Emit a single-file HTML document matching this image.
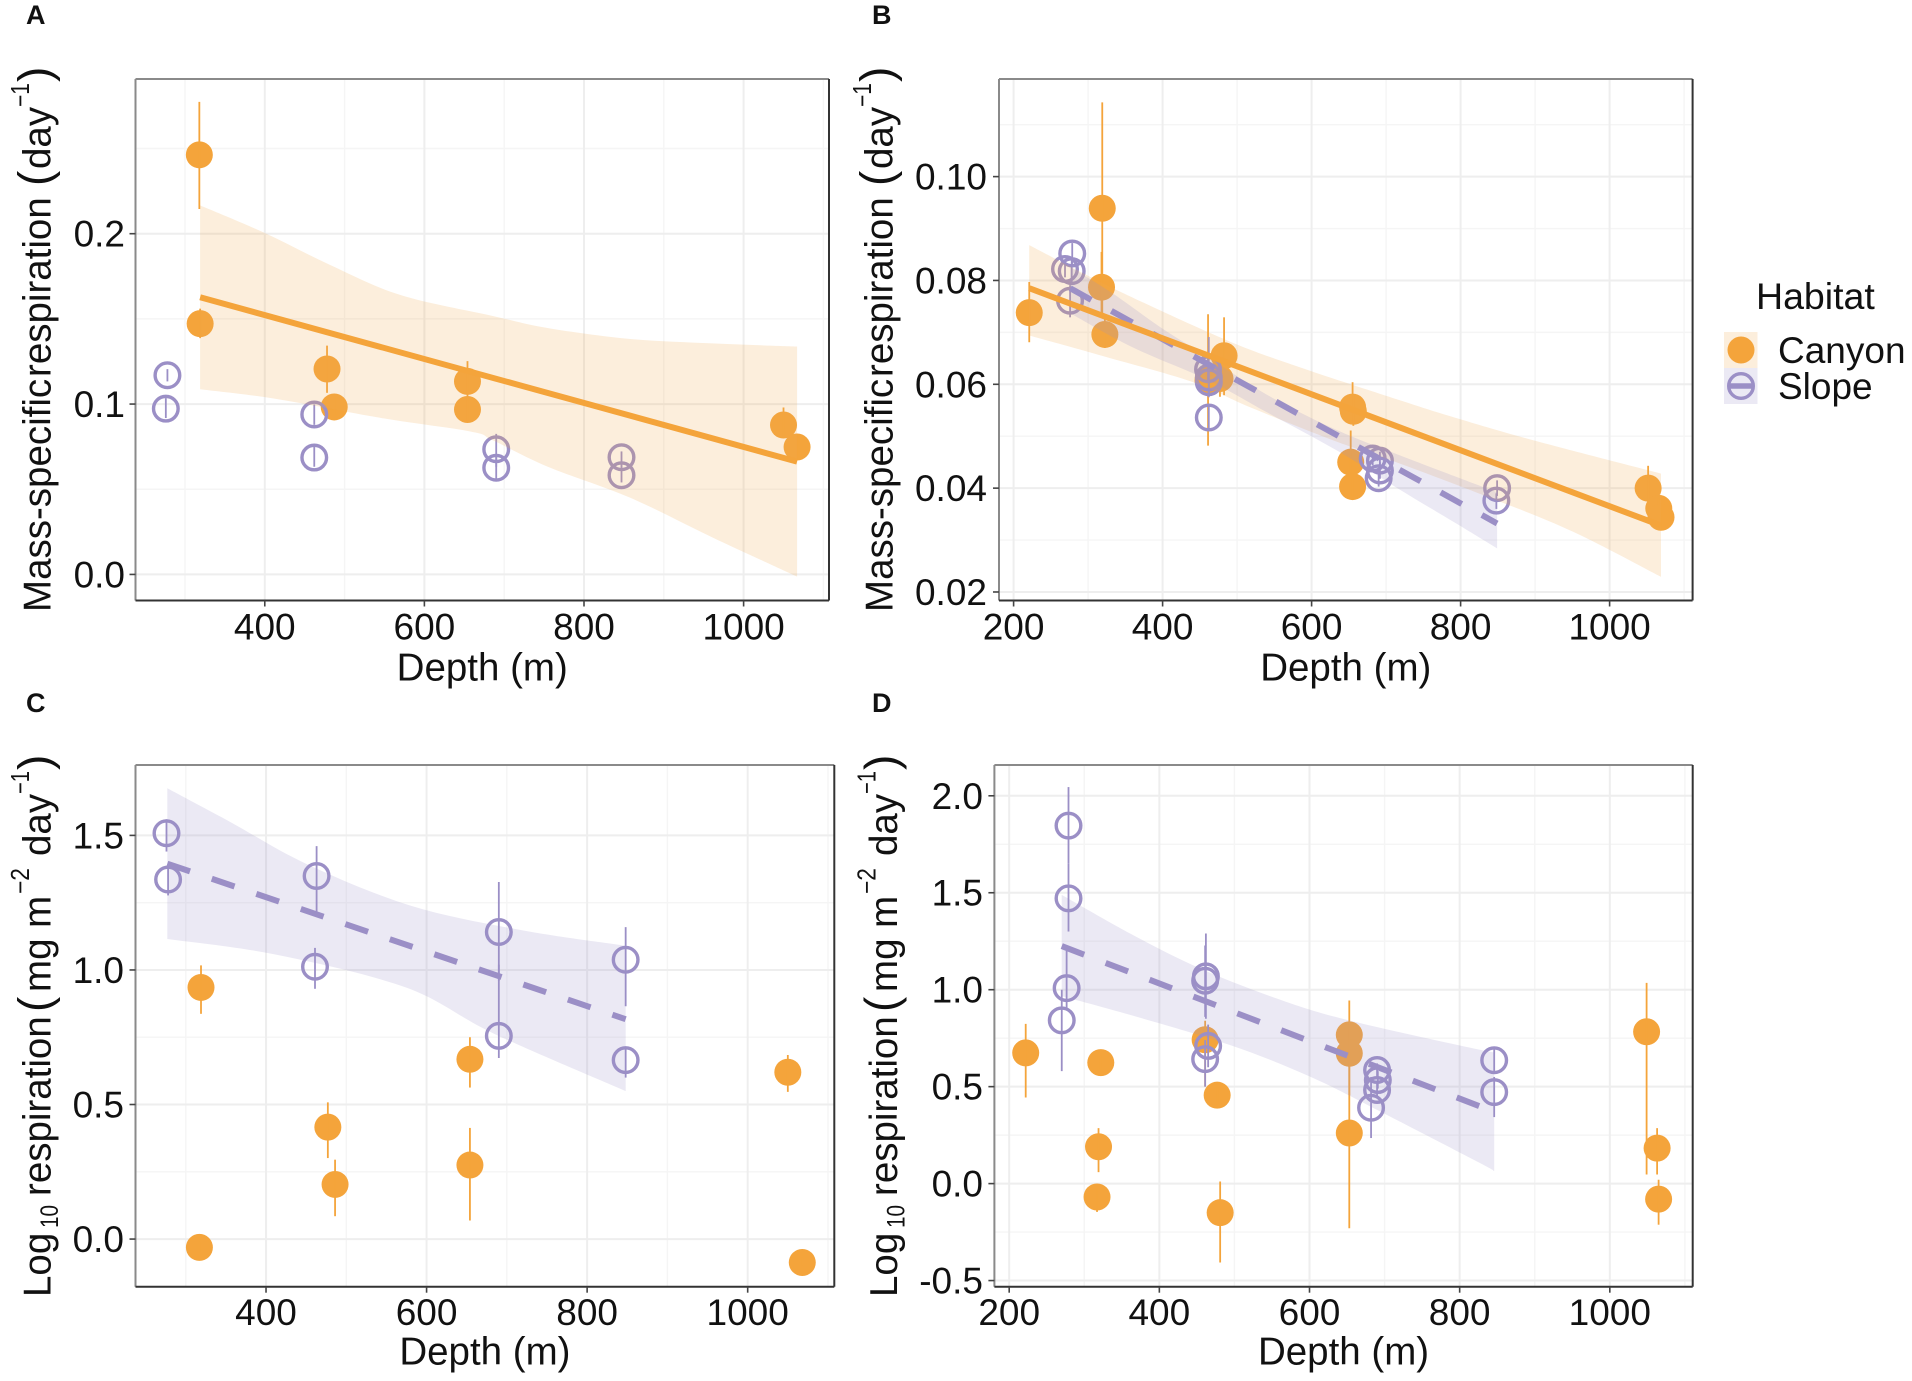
<!DOCTYPE html>
<html lang="en">
<head>
<meta charset="utf-8">
<title>Respiration versus depth by habitat</title>
<style>
html,body{margin:0;padding:0;background:#fff;width:1912px;height:1381px;overflow:hidden}
svg{display:block}
text{font-family:"Liberation Sans",Arial,sans-serif;fill:#111}
</style>
</head>
<body>
<svg id="figure" xmlns="http://www.w3.org/2000/svg" width="1912" height="1381" viewBox="0 0 1912 1381">
  <rect x="0" y="0" width="1912" height="1381" fill="#ffffff"/>
  <g id="panels"></g>

  <g font-weight="bold" font-size="27">
    <text x="26" y="24" font-weight="bold">A</text>
    <text x="872" y="24" font-weight="bold">B</text>
    <text x="26" y="712" font-weight="bold">C</text>
    <text x="872" y="712" font-weight="bold">D</text>
  </g>

  <g font-size="38.5">
    <text transform="translate(50.5,612) rotate(-90)">Mass-specific</text>
    <text transform="translate(50.5,377) rotate(-90)">respiration</text>
    <text transform="translate(50.5,186) rotate(-90)" font-size="46">(</text>
    <text transform="translate(50.5,169) rotate(-90)">day</text>
    <text transform="translate(29,107) rotate(-90)" font-size="26" textLength="24" lengthAdjust="spacingAndGlyphs">−1</text>
    <text transform="translate(50.5,82) rotate(-90)" font-size="46">)</text>
  </g>
  <g font-size="38.5">
    <text transform="translate(892.5,612) rotate(-90)">Mass-specific</text>
    <text transform="translate(892.5,377) rotate(-90)">respiration</text>
    <text transform="translate(892.5,186) rotate(-90)" font-size="46">(</text>
    <text transform="translate(892.5,169) rotate(-90)">day</text>
    <text transform="translate(871,107) rotate(-90)" font-size="26" textLength="24" lengthAdjust="spacingAndGlyphs">−1</text>
    <text transform="translate(892.5,82) rotate(-90)" font-size="46">)</text>
  </g>
  <g font-size="38.5">
    <text transform="translate(50.5,1297) rotate(-90)">Log</text>
    <text transform="translate(58,1228) rotate(-90)" font-size="25" textLength="23" lengthAdjust="spacingAndGlyphs">10</text>
    <text transform="translate(50.5,1196) rotate(-90)">respiration</text>
    <text transform="translate(50.5,1012) rotate(-90)" font-size="46">(</text>
    <text transform="translate(50.5,992) rotate(-90)">mg m</text>
    <text transform="translate(29,894) rotate(-90)" font-size="26" textLength="26" lengthAdjust="spacingAndGlyphs">−2</text>
    <text transform="translate(50.5,856) rotate(-90)">day</text>
    <text transform="translate(29,794) rotate(-90)" font-size="26" textLength="23" lengthAdjust="spacingAndGlyphs">−1</text>
    <text transform="translate(50.5,770) rotate(-90)" font-size="46">)</text>
  </g>
  <g font-size="38.5">
    <text transform="translate(897,1297) rotate(-90)">Log</text>
    <text transform="translate(904.5,1228) rotate(-90)" font-size="25" textLength="23" lengthAdjust="spacingAndGlyphs">10</text>
    <text transform="translate(897,1196) rotate(-90)">respiration</text>
    <text transform="translate(897,1012) rotate(-90)" font-size="46">(</text>
    <text transform="translate(897,992) rotate(-90)">mg m</text>
    <text transform="translate(875.5,894) rotate(-90)" font-size="26" textLength="26" lengthAdjust="spacingAndGlyphs">−2</text>
    <text transform="translate(897,856) rotate(-90)">day</text>
    <text transform="translate(875.5,794) rotate(-90)" font-size="26" textLength="23" lengthAdjust="spacingAndGlyphs">−1</text>
    <text transform="translate(897,770) rotate(-90)" font-size="46">)</text>
  </g>

  <g>
    <text x="1756" y="309" font-size="37.5">Habitat</text>
    <g>
      <rect x="1724" y="332" width="33.5" height="36" fill="#f0aa50" fill-opacity="0.2"/>
      <circle cx="1741" cy="350" r="13.5" fill="#f4a43b"/>
      <text x="1778" y="363" font-size="37">Canyon</text>
    </g>
    <g>
      <rect x="1724" y="368" width="33.5" height="36" fill="#9b8fc6" fill-opacity="0.2"/>
      <line x1="1728" x2="1754" y1="386" y2="386" stroke="#9b8fc6" stroke-width="5.5"/>
      <circle cx="1741" cy="386" r="12.3" fill="none" stroke="#9b8fc6" stroke-width="3.4"/>
      <text x="1778" y="399" font-size="37">Slope</text>
    </g>
  </g>
</svg>

<script>
/* ---------- axis ticks ---------- */
const xTicksA = [400, 600, 800, 1000];
const xTickLabelsA = ['400', '600', '800', '1000'];
const xMinorA = [300, 500, 700, 900, 1100];
const yTicksA = [0, 0.1, 0.2];
const yTickLabelsA = ['0.0', '0.1', '0.2'];
const yMinorA = [0.05, 0.15, 0.25];

const xTicksB = [200, 400, 600, 800, 1000];
const xTickLabelsB = ['200', '400', '600', '800', '1000'];
const xMinorB = [300, 500, 700, 900, 1100];
const yTicksB = [0.02, 0.04, 0.06, 0.08, 0.10];
const yTickLabelsB = ['0.02', '0.04', '0.06', '0.08', '0.10'];
const yMinorB = [0.03, 0.05, 0.07, 0.09, 0.11];

const xTicksC = [400, 600, 800, 1000];
const xTickLabelsC = ['400', '600', '800', '1000'];
const xMinorC = [300, 500, 700, 900, 1100];
const yTicksC = [0, 0.5, 1.0, 1.5];
const yTickLabelsC = ['0.0', '0.5', '1.0', '1.5'];
const yMinorC = [0.25, 0.75, 1.25];

const xTicksD = [200, 400, 600, 800, 1000];
const xTickLabelsD = ['200', '400', '600', '800', '1000'];
const xMinorD = [300, 500, 700, 900, 1100];
const yTicksD = [-0.5, 0, 0.5, 1.0, 1.5, 2.0];
const yTickLabelsD = ['-0.5', '0.0', '0.5', '1.0', '1.5', '2.0'];
const yMinorD = [-0.25, 0.25, 0.75, 1.25, 1.75];

/* ---------- panel A ---------- */
const canyonDepthA = [318, 319, 478, 487, 654, 654, 1050, 1067];
const canyonRateA  = [0.2463, 0.1472, 0.1206, 0.0983, 0.1133, 0.0968, 0.0877, 0.0748];
const canyonHighA  = [0.2774, 0.156, 0.1343, 0.104, 0.1252, 0.104, 0.098, 0.081];
const canyonLowA   = [0.2145, 0.1387, 0.1066, 0.093, 0.1014, 0.09, 0.08, 0.068];
const slopeDepthA  = [278, 276, 462, 462, 690, 690, 847, 847];
const slopeRateA   = [0.1169, 0.0973, 0.0939, 0.0686, 0.0735, 0.0626, 0.0688, 0.0582];
const slopeHighA   = [0.1205, 0.1035, 0.0998, 0.0748, 0.0825, 0.0708, 0.0722, 0.064];
const slopeLowA    = [0.1133, 0.0918, 0.0878, 0.0632, 0.0632, 0.055, 0.0632, 0.054];
const canyonBandDepthA = [319, 398, 480, 570, 687, 755, 858, 961, 1067];
const canyonBandHighA  = [0.2166, 0.2008, 0.1821, 0.164, 0.1516, 0.1446, 0.1382, 0.1356, 0.1338];
const canyonBandDepthLowA = [319, 412, 549, 659, 686, 755, 858, 961, 1067];
const canyonBandLowA   = [0.1087, 0.1032, 0.0916, 0.0838, 0.0787, 0.0631, 0.045, 0.0217, -0.0013];
const canyonFitDepthA = [319, 1067];
const canyonFitRateA  = [0.1627, 0.0662];

/* ---------- panel B ---------- */
const canyonDepthB = [221, 319, 318, 322.5, 461, 482.5, 477, 655, 656, 652.5, 655, 1051.7, 1066, 1069];
const canyonRateB  = [0.0738, 0.0939, 0.0787, 0.0696, 0.0608, 0.0655, 0.0611, 0.0556, 0.0548, 0.045, 0.0403, 0.04, 0.0361, 0.0344];
const canyonHighB  = [0.0797, 0.1143, 0.0855, 0.073, 0.0735, 0.0729, 0.0646, 0.0604, 0.058, 0.0511, 0.042, 0.0443, 0.038, 0.036];
const canyonLowB   = [0.0681, 0.0734, 0.0737, 0.067, 0.0482, 0.0579, 0.0576, 0.0524, 0.052, 0.043, 0.0385, 0.0375, 0.034, 0.032];
const slopeDepthB  = [278.7, 269, 278, 275.8, 461, 462, 462, 462, 682, 691.7, 691.7, 690, 849, 848];
const slopeRateB   = [0.0852, 0.0822, 0.0818, 0.0761, 0.0629, 0.0613, 0.0604, 0.0536, 0.0457, 0.0453, 0.0434, 0.0419, 0.04, 0.0376];
const slopeHighB   = [0.0872, 0.0838, 0.0845, 0.0791, 0.0655, 0.0691, 0.063, 0.056, 0.047, 0.047, 0.045, 0.0435, 0.0415, 0.039];
const slopeLowB    = [0.0832, 0.0806, 0.0795, 0.0729, 0.0603, 0.0575, 0.0578, 0.051, 0.0444, 0.0436, 0.0418, 0.0403, 0.0385, 0.036];
const canyonBandDepthB = [221, 333.5, 486, 584, 719, 794, 898, 1069];
const canyonBandHighB  = [0.0868, 0.0785, 0.0685, 0.0633, 0.0569, 0.0535, 0.0492, 0.0428];
const canyonBandDepthLowB = [221, 316, 441, 517, 629, 719, 846, 951, 1069];
const canyonBandLowB   = [0.0694, 0.0656, 0.0604, 0.0556, 0.0492, 0.0447, 0.0378, 0.0316, 0.0229];
const slopeBandDepthB = [276, 333, 397, 461, 540, 629, 715, 849];
const slopeBandHighB  = [0.0826, 0.0775, 0.071, 0.0652, 0.058, 0.0515, 0.0465, 0.0392];
const slopeBandDepthLowB = [276, 360, 461, 540, 637, 715, 794, 849];
const slopeBandLowB   = [0.0737, 0.0671, 0.0608, 0.0546, 0.047, 0.04, 0.0332, 0.0284];
const canyonFitDepthB = [221, 1069];
const canyonFitRateB  = [0.0785, 0.0328];
const slopeFitDepthB  = [276, 849];
const slopeFitRateB   = [0.0785, 0.0332];

/* ---------- panel C ---------- */
const canyonDepthC = [319, 317, 477, 486, 654, 654, 1050, 1068];
const canyonRateC  = [0.935, -0.031, 0.416, 0.203, 0.668, 0.275, 0.62, -0.087];
const canyonHighC  = [1.017, -0.01, 0.508, 0.295, 0.75, 0.413, 0.684, -0.07];
const canyonLowC   = [0.837, -0.05, 0.301, 0.085, 0.563, 0.069, 0.547, -0.1];
const slopeDepthC  = [276, 278, 463, 461, 690, 690, 848, 848];
const slopeRateC   = [1.508, 1.336, 1.349, 1.012, 1.141, 0.755, 1.038, 0.665];
const slopeHighC   = [1.56, 1.39, 1.46, 1.082, 1.327, 1.02, 1.159, 0.714];
const slopeLowC    = [1.44, 1.277, 1.213, 0.93, 0.96, 0.673, 0.865, 0.6];
const slopeBandDepthC = [277, 356, 451, 581, 718, 848];
const slopeBandHighC  = [1.675, 1.549, 1.393, 1.238, 1.148, 1.09];
const slopeBandDepthLowC = [277, 410, 574, 684, 848];
const slopeBandLowC   = [1.115, 1.058, 0.935, 0.763, 0.55];
const slopeFitDepthC = [277, 848];
const slopeFitRateC  = [1.395, 0.817];

/* ---------- panel D ---------- */
const canyonDepthD = [222, 322, 319, 317, 461, 477, 481, 653, 653, 653, 1049, 1063, 1065];
const canyonRateD  = [0.674, 0.624, 0.19, -0.069, 0.742, 0.456, -0.15, 0.767, 0.672, 0.261, 0.783, 0.183, -0.08];
const canyonHighD  = [0.824, 0.66, 0.286, -0.03, 0.84, 0.5, 0.011, 0.944, 0.8, 0.615, 1.035, 0.286, 0.02];
const canyonLowD   = [0.444, 0.59, 0.059, -0.146, 0.5, 0.41, -0.407, 0.6, 0.456, -0.23, 0.047, 0.047, -0.212];
const slopeDepthD  = [279, 279, 276.5, 270, 462, 461, 465, 461, 690, 691, 690, 682, 846, 846];
const slopeRateD   = [1.846, 1.471, 1.008, 0.842, 1.069, 1.046, 0.71, 0.642, 0.586, 0.534, 0.483, 0.391, 0.636, 0.472];
const slopeHighD   = [2.045, 1.65, 1.2, 1.0, 1.29, 1.228, 0.82, 0.74, 0.62, 0.58, 0.53, 0.55, 0.7, 0.55];
const slopeLowD    = [1.65, 1.3, 0.9, 0.58, 0.85, 0.86, 0.6, 0.5, 0.55, 0.49, 0.44, 0.235, 0.58, 0.343];
const slopeBandDepthD = [270, 361, 450, 551, 650, 827, 846];
const slopeBandHighD  = [1.489, 1.29, 1.117, 0.962, 0.844, 0.69, 0.683];
const slopeBandDepthLowD = [270, 361, 494, 601, 698, 827, 846];
const slopeBandLowD   = [0.967, 0.87, 0.715, 0.551, 0.364, 0.106, 0.065];
const slopeFitDepthD = [270, 846];
const slopeFitRateD  = [1.225, 0.37];

/* ---------- drawing ---------- */
const NS = 'http://www.w3.org/2000/svg';
const ORANGE = '#f4a43b';
const BAND_ORANGE = '#f0aa50';
const PURPLE = '#9b8fc6';

function makeEl(parent, tag) {
  const el = document.createElementNS(NS, tag);
  parent.appendChild(el);
  return el;
}

function scaleLinear(d0, d1, r0, r1) {
  return function (v) { return r0 + (v - d0) * (r1 - r0) / (d1 - d0); };
}

function drawGridLine(g, sx, sy, frame, v, isX, major) {
  const el = makeEl(g, 'line');
  
  
  if (isX) {
    el.setAttribute('x1', sx(v)); el.setAttribute('x2', sx(v));
    el.setAttribute('y1', frame.top); el.setAttribute('y2', frame.bottom);
  } else {
    el.setAttribute('x1', frame.left); el.setAttribute('x2', frame.right);
    el.setAttribute('y1', sy(v)); el.setAttribute('y2', sy(v));
  }
  el.setAttribute('stroke', major ? '#eeeeee' : '#f5f5f5');
  el.setAttribute('stroke-width', major ? 2 : 1.4);
}

function drawPoints(g, sx, sy, depth, rate, high, low, color, hollow) {
  depth.forEach(function (d, i) {
    const pt = makeEl(g, 'circle');
    
    
    pt.setAttribute('cx', sx(d));
    pt.setAttribute('cy', sy(rate[i]));
    if (hollow) {
      pt.setAttribute('r', 12.3);
      pt.setAttribute('fill', 'none');
      pt.setAttribute('stroke', color);
      pt.setAttribute('stroke-width', 3.4);
    } else {
      pt.setAttribute('r', 13.5);
      pt.setAttribute('fill', color);
    }
    const bar = makeEl(g, 'line');
    
    
    bar.setAttribute('x1', sx(d));
    bar.setAttribute('x2', sx(d));
    bar.setAttribute('y1', sy(high[i]));
    bar.setAttribute('y2', sy(low[i]));
    bar.setAttribute('stroke', color);
    bar.setAttribute('stroke-width', 1.8);
  });
}

/* Smooth curve through pixel points (Catmull-Rom to cubic Bezier). */
function curveThrough(pts) {
  let d = '';
  for (let i = 0; i < pts.length - 1; i++) {
    const p0 = pts[Math.max(i - 1, 0)];
    const p1 = pts[i];
    const p2 = pts[i + 1];
    const p3 = pts[Math.min(i + 2, pts.length - 1)];
    const c1x = p1[0] + (p2[0] - p0[0]) / 6;
    const c1y = p1[1] + (p2[1] - p0[1]) / 6;
    const c2x = p2[0] - (p3[0] - p1[0]) / 6;
    const c2y = p2[1] - (p3[1] - p1[1]) / 6;
    d += 'C' + c1x.toFixed(1) + ' ' + c1y.toFixed(1) + ' ' + c2x.toFixed(1) + ' ' + c2y.toFixed(1) + ' ' + p2[0].toFixed(1) + ' ' + p2[1].toFixed(1);
  }
  return d;
}

function drawBand(g, sx, sy, hx, hy, lx, ly, color, name) {
  const upper = hx.map(function (d, i) { return [sx(d), sy(hy[i])]; });
  const lower = lx.map(function (d, i) { return [sx(d), sy(ly[i])]; }).reverse();
  const path = 'M' + upper[0][0].toFixed(1) + ' ' + upper[0][1].toFixed(1) + curveThrough(upper) +
    'L' + lower[0][0].toFixed(1) + ' ' + lower[0][1].toFixed(1) + curveThrough(lower) + 'Z';
  const el = makeEl(g, 'path');
  
  
  el.setAttribute('d', path);
  el.setAttribute('fill', color);
  el.setAttribute('fill-opacity', 0.2);
}

function drawFit(g, sx, sy, fx, fy, color, dashed, name) {
  const el = makeEl(g, 'line');
  
  
  el.setAttribute('x1', sx(fx[0]));
  el.setAttribute('y1', sy(fy[0]));
  el.setAttribute('x2', sx(fx[1]));
  el.setAttribute('y2', sy(fy[1]));
  el.setAttribute('stroke', color);
  el.setAttribute('stroke-width', dashed ? 6 : 6);
  if (dashed) el.setAttribute('stroke-dasharray', '24 23');
}

function drawAxes(g, sx, sy, frame, xt, xl, yt, yl, labelX, xBase, titleBase) {
  const edges = [
    ['border-top', frame.left, frame.top, frame.right, frame.top, '#8a8a8a', 2],
    ['border-left', frame.left, frame.top, frame.left, frame.bottom, '#8a8a8a', 2],
    ['border-right', frame.right, frame.top, frame.right, frame.bottom, '#333333', 2],
    ['border-bottom', frame.left, frame.bottom, frame.right, frame.bottom, '#333333', 2]
  ];
  edges.forEach(function (e) {
    const ln = makeEl(g, 'line');
    
    
    ln.setAttribute('x1', e[1]); ln.setAttribute('y1', e[2]);
    ln.setAttribute('x2', e[3]); ln.setAttribute('y2', e[4]);
    ln.setAttribute('stroke', e[5]); ln.setAttribute('stroke-width', e[6]);
  });
  xt.forEach(function (v, i) {
    const tick = makeEl(g, 'line');
    
    
    tick.setAttribute('x1', sx(v)); tick.setAttribute('x2', sx(v));
    tick.setAttribute('y1', frame.bottom); tick.setAttribute('y2', frame.bottom + 6);
    tick.setAttribute('stroke', '#444'); tick.setAttribute('stroke-width', 1.6);
    const t = makeEl(g, 'text');
    
    
    t.setAttribute('x', sx(v));
    t.setAttribute('y', xBase);
    t.setAttribute('text-anchor', 'middle');
    t.setAttribute('font-size', 37);
    t.textContent = xl[i];
  });
  yt.forEach(function (v, i) {
    const tick = makeEl(g, 'line');
    
    
    tick.setAttribute('x1', frame.left - 6); tick.setAttribute('x2', frame.left);
    tick.setAttribute('y1', sy(v)); tick.setAttribute('y2', sy(v));
    tick.setAttribute('stroke', '#444'); tick.setAttribute('stroke-width', 1.6);
    const t = makeEl(g, 'text');
    
    
    t.setAttribute('x', labelX);
    t.setAttribute('y', sy(v) + 13);
    t.setAttribute('text-anchor', 'end');
    t.setAttribute('font-size', 37);
    t.textContent = yl[i];
  });
  const title = makeEl(g, 'text');
  
  
  title.setAttribute('x', (frame.left + frame.right) / 2);
  title.setAttribute('y', titleBase);
  title.setAttribute('text-anchor', 'middle');
  title.setAttribute('font-size', 38.5);
  title.textContent = 'Depth (m)';
}

const root = document.getElementById('panels');

function panelGroup(name) {
  const g = makeEl(root, 'g');
  
  
  return g;
}

function grids(g, sx, sy, frame, xMinor, yMinor, xt, yt) {
  xMinor.forEach(function (v) { drawGridLine(g, sx, sy, frame, v, true, false); });
  yMinor.forEach(function (v) { drawGridLine(g, sx, sy, frame, v, false, false); });
  xt.forEach(function (v) { drawGridLine(g, sx, sy, frame, v, true, true); });
  yt.forEach(function (v) { drawGridLine(g, sx, sy, frame, v, false, true); });
}

/* Panel A */
(function () {
  const frame = { left: 135.5, right: 829, top: 79, bottom: 600.5 };
  const sx = scaleLinear(238, 1107, frame.left, frame.right);
  const sy = scaleLinear(-0.0153, 0.2908, frame.bottom, frame.top);
  const g = panelGroup('panel-a');
  grids(g, sx, sy, frame, xMinorA, yMinorA, xTicksA, yTicksA);
  drawPoints(g, sx, sy, canyonDepthA, canyonRateA, canyonHighA, canyonLowA, ORANGE, false);
  drawPoints(g, sx, sy, slopeDepthA, slopeRateA, slopeHighA, slopeLowA, PURPLE, true);
  drawBand(g, sx, sy, canyonBandDepthA, canyonBandHighA, canyonBandDepthLowA, canyonBandLowA, BAND_ORANGE, 'canyon-confidence-band');
  drawFit(g, sx, sy, canyonFitDepthA, canyonFitRateA, ORANGE, false, 'canyon-fit-line');
  drawAxes(g, sx, sy, frame, xTicksA, xTickLabelsA, yTicksA, yTickLabelsA, 125, 639.5, 680.5);
})();

/* Panel B */
(function () {
  const frame = { left: 999, right: 1692.6, top: 79, bottom: 600.5 };
  const sx = scaleLinear(180.4, 1111.4, frame.left, frame.right);
  const sy = scaleLinear(0.01836, 0.1188, frame.bottom, frame.top);
  const g = panelGroup('panel-b');
  grids(g, sx, sy, frame, xMinorB, yMinorB, xTicksB, yTicksB);
  drawPoints(g, sx, sy, canyonDepthB, canyonRateB, canyonHighB, canyonLowB, ORANGE, false);
  drawPoints(g, sx, sy, slopeDepthB, slopeRateB, slopeHighB, slopeLowB, PURPLE, true);
  drawBand(g, sx, sy, canyonBandDepthB, canyonBandHighB, canyonBandDepthLowB, canyonBandLowB, BAND_ORANGE, 'canyon-confidence-band');
  drawBand(g, sx, sy, slopeBandDepthB, slopeBandHighB, slopeBandDepthLowB, slopeBandLowB, PURPLE, 'slope-confidence-band');
  drawFit(g, sx, sy, slopeFitDepthB, slopeFitRateB, PURPLE, true, 'slope-fit-line');
  drawFit(g, sx, sy, canyonFitDepthB, canyonFitRateB, ORANGE, false, 'canyon-fit-line');
  drawAxes(g, sx, sy, frame, xTicksB, xTickLabelsB, yTicksB, yTickLabelsB, 987, 639.5, 680.5);
})();

/* Panel C */
(function () {
  const frame = { left: 135.5, right: 834.3, top: 765, bottom: 1286.7 };
  const sx = scaleLinear(237.4, 1107.9, frame.left, frame.right);
  const sy = scaleLinear(-0.177, 1.7616, frame.bottom, frame.top);
  const g = panelGroup('panel-c');
  grids(g, sx, sy, frame, xMinorC, yMinorC, xTicksC, yTicksC);
  drawPoints(g, sx, sy, canyonDepthC, canyonRateC, canyonHighC, canyonLowC, ORANGE, false);
  drawPoints(g, sx, sy, slopeDepthC, slopeRateC, slopeHighC, slopeLowC, PURPLE, true);
  drawBand(g, sx, sy, slopeBandDepthC, slopeBandHighC, slopeBandDepthLowC, slopeBandLowC, PURPLE, 'slope-confidence-band');
  drawFit(g, sx, sy, slopeFitDepthC, slopeFitRateC, PURPLE, true, 'slope-fit-line');
  drawAxes(g, sx, sy, frame, xTicksC, xTickLabelsC, yTicksC, yTickLabelsC, 124, 1325, 1364.5);
})();

/* Panel D */
(function () {
  const frame = { left: 994.4, right: 1692.7, top: 765, bottom: 1286.7 };
  const sx = scaleLinear(180.3, 1110.4, frame.left, frame.right);
  const sy = scaleLinear(-0.5317, 2.1588, frame.bottom, frame.top);
  const g = panelGroup('panel-d');
  grids(g, sx, sy, frame, xMinorD, yMinorD, xTicksD, yTicksD);
  drawPoints(g, sx, sy, canyonDepthD, canyonRateD, canyonHighD, canyonLowD, ORANGE, false);
  drawPoints(g, sx, sy, slopeDepthD, slopeRateD, slopeHighD, slopeLowD, PURPLE, true);
  drawBand(g, sx, sy, slopeBandDepthD, slopeBandHighD, slopeBandDepthLowD, slopeBandLowD, PURPLE, 'slope-confidence-band');
  drawFit(g, sx, sy, slopeFitDepthD, slopeFitRateD, PURPLE, true, 'slope-fit-line');
  drawAxes(g, sx, sy, frame, xTicksD, xTickLabelsD, yTicksD, yTickLabelsD, 983, 1325, 1364.5);
})();
</script>
</body>
</html>
